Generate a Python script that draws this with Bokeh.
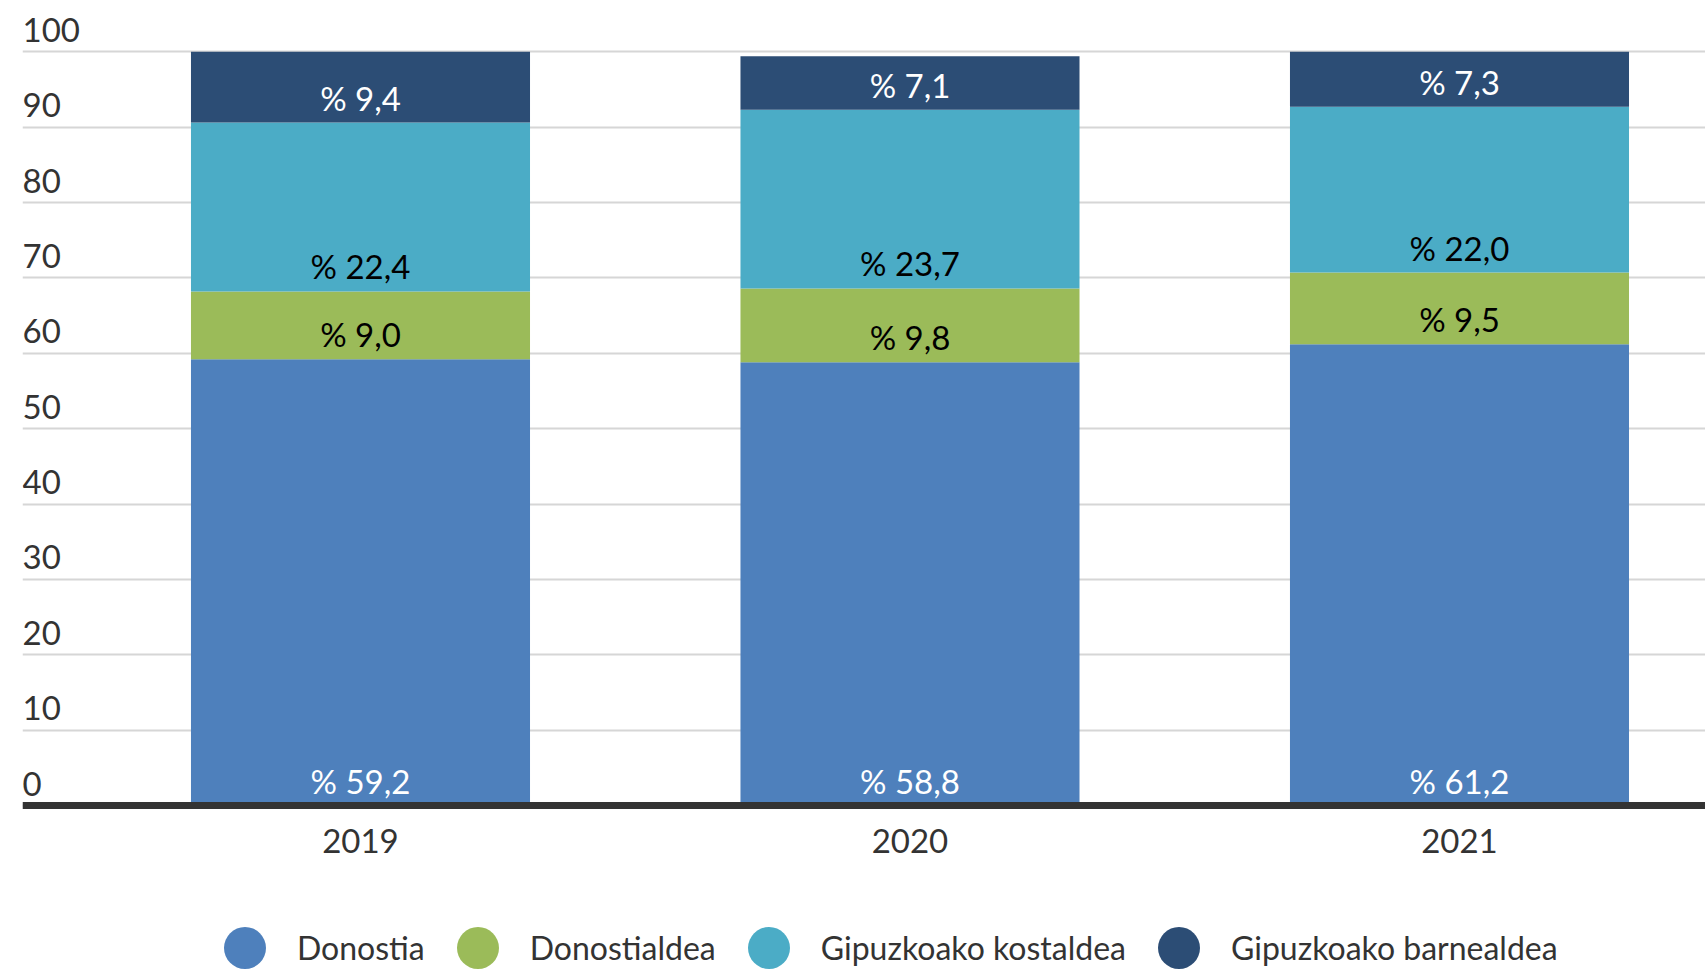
from bokeh.plotting import figure
from bokeh.models import (ColumnDataSource, Range1d, FixedTicker, Legend, LegendItem,
                          LabelSet, Grid, Span)
from bokeh.core.properties import value
from bokeh.embed import file_html
from bokeh.resources import INLINE

# ---------------- data ----------------
years = ["2019", "2020", "2021"]
series = ["Donostia", "Donostialdea", "Gipuzkoako kostaldea", "Gipuzkoako barnealdea"]
donostia = [59.2, 58.8, 61.2]
donostialdea = [9.0, 9.8, 9.5]
kostaldea = [22.4, 23.7, 22.0]
barnealdea = [9.4, 7.1, 7.3]
y_ticks = [0, 10, 20, 30, 40, 50, 60, 70, 80, 90, 100]
y_tick_labels = ["0", "10", "20", "30", "40", "50", "60", "70", "80", "90", "100"]

colors = ["#4E80BC", "#9BBB59", "#4BACC6", "#2C4D75"]
label_colors = ["#FFFFFF", "#000000", "#000000", "#FFFFFF"]
FONT = "Lato"
TXT = "#333333"

values = [donostia, donostialdea, kostaldea, barnealdea]
xs = list(range(len(years)))

src = ColumnDataSource(dict(x=xs, **{s: v for s, v in zip(series, values)}))

# stack labels at the bottom of each segment
lx, ly, lt, lc = [], [], [], []
for i in range(len(years)):
    bottom = 0.0
    for s, vals in enumerate(values):
        lx.append(xs[i])
        ly.append(bottom)
        lt.append("% " + f"{vals[i]:.1f}".replace(".", ","))
        lc.append(label_colors[s])
        bottom += vals[i]
lsrc = ColumnDataSource(dict(x=lx, y=ly, t=lt, c=lc))

# ---------------- figure ----------------
p = figure(frame_width=1683, frame_height=970,
           x_range=Range1d(-0.6151, 2.4477), y_range=Range1d(-21.89, 106.8),
           output_backend="svg", toolbar_location=None,
           min_border_left=22, min_border_right=0, min_border_top=0,
           min_border_bottom=0, x_axis_location=None, y_axis_location=None)
p.outline_line_color = None
p.grid.visible = False
p.background_fill_color = "white"
p.border_fill_color = "white"

grid = Grid(dimension=1, ticker=FixedTicker(ticks=y_ticks),
            grid_line_color="#D6D6D6", grid_line_width=2)
p.add_layout(grid, "center")

p.vbar_stack(series, x="x", width=0.617, color=colors, source=src, line_width=0)

# baseline (category axis line at 0)
p.add_layout(Span(location=0, dimension="width", line_color="#333333", line_width=7))

stack_labels = LabelSet(x="x", y="y", text="t", source=lsrc, text_color="c",
                        text_align="center", text_baseline="alphabetic",
                        text_font=value(FONT), text_font_size="33px", y_offset=12)
p.add_layout(stack_labels)

# y tick labels (drawn above their grid lines)
ysrc = ColumnDataSource(dict(y=y_ticks, t=y_tick_labels))
ylabels = LabelSet(x=0, x_units="screen", y="y", text="t", source=ysrc,
                   text_align="left", text_baseline="alphabetic",
                   text_font=value(FONT), text_font_size="33px", text_color=TXT,
                   y_offset=10)
p.add_layout(ylabels)

# category labels below the baseline
xsrc = ColumnDataSource(dict(x=xs, y=[0] * len(years), t=years))
xlabels = LabelSet(x="x", y="y", text="t", source=xsrc,
                   text_align="center", text_baseline="alphabetic",
                   text_font=value(FONT), text_font_size="33px", text_color=TXT,
                   y_offset=-47)
p.add_layout(xlabels)

# legend with circle markers (zero-size markers: only the legend shows them)
rs = [p.scatter(x="x", y=s, source=src, marker="circle", size=0,
                fill_color=c, line_color=None)
      for s, c in zip(series, colors)]
legend = Legend(items=[LegendItem(label=s, renderers=[r]) for s, r in zip(series, rs)],
                orientation="horizontal", glyph_width=105, glyph_height=105,
                label_standoff=-4, spacing=0, padding=0, margin=0,
                border_line_color=None, background_fill_alpha=0,
                label_text_font=FONT, label_text_font_size="32px",
                label_text_color=TXT, location=(170, -30))
p.add_layout(legend, "center")

open("out.html", "w").write(file_html(p, INLINE))
